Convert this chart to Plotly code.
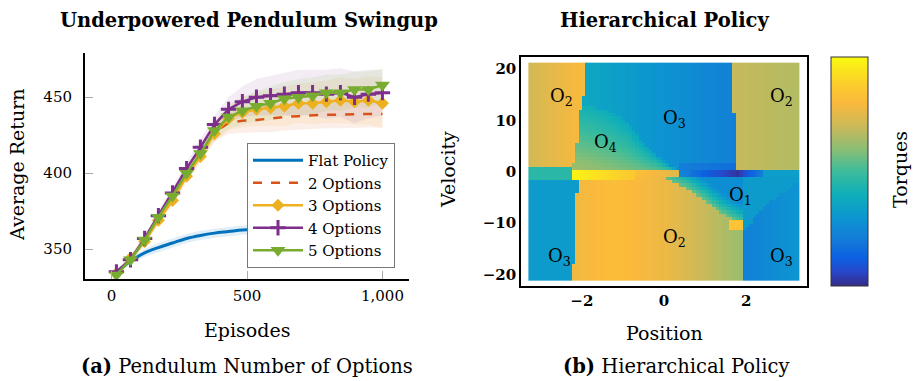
import numpy as np
import plotly.graph_objects as go

W, H = 917, 381
FONT = "DejaVu Serif"

# ---------------- learning curves (left panel) ----------------
episodes = [18, 70, 122, 173, 225, 277, 328, 380, 432, 483,
            535, 587, 638, 690, 742, 793, 845, 897, 948, 1000]

flat_mean = [335, 342, 347.5, 351, 354, 357, 359, 360.5, 361.5, 362.5,
             363, 363.5, 364, 364.5, 365, 365, 365.5, 365.5, 366, 366]
flat_std = [1.5, 2, 2.5, 3, 3, 3, 3, 3, 3, 3, 3, 3, 3, 3, 3, 3, 3, 3, 3, 3]

opt2_mean = [334, 344, 356, 370, 384, 399, 413, 427, 433, 434.5,
             435, 436, 437, 437.5, 438, 438.5, 438.5, 439, 439, 439]
opt2_std = [1.5, 2, 3, 3, 4, 4, 5, 6, 7, 8, 8, 9, 9, 9, 9, 9, 9, 9, 9, 9]

opt3_mean = [334, 344, 355, 369, 382, 398, 411, 426, 436, 440,
             442, 443, 444, 446, 446, 447, 448, 447, 448, 446]
opt3_std = [1.5, 2, 3, 3, 4, 4, 5, 6, 8, 10, 11, 12, 13, 13, 14, 14, 15, 15, 16, 17]

opt4_mean = [335, 343, 357, 372, 387, 403, 417, 432, 442, 447,
             450, 451, 452, 453, 453, 452, 453, 450, 452, 453]
opt4_std = [1.5, 2, 3, 3, 4, 4, 5, 6, 8, 10, 12, 13, 14, 15, 15, 16, 16, 17, 16, 15]

opt5_mean = [333, 343, 356, 371, 385, 400, 413, 428, 437, 441,
             444, 446, 449, 450, 451, 453, 453, 455, 455, 458]
opt5_std = [1.5, 2, 3, 3, 4, 4, 5, 6, 8, 9, 10, 11, 11, 12, 12, 12, 12, 12, 12, 11]

series_names = ["Flat Policy", "2 Options", "3 Options", "4 Options", "5 Options"]
series_colors = ["#0072BD", "#D95319", "#EDB120", "#7E2F8E", "#77AC30"]
band_rgba = ["rgba(0,114,189,0.12)", "rgba(217,83,25,0.09)", "rgba(237,177,32,0.10)",
             "rgba(126,47,142,0.09)", "rgba(119,172,48,0.10)"]

# ---------------- policy map (right panel) ----------------
# region boundaries (position in rad, velocity in rad/s)
tl_o2_vel = [1.0, 3.0, 7.0, 12.0, 15.0, 21.5]
tl_o2_pos = [-2.22, -2.15, -2.10, -2.05, -1.95, -1.88]
tr_o2_vel = [0.6, 5.0, 10.0, 15.0, 21.5]
tr_o2_pos = [1.75, 1.75, 1.72, 1.68, 1.65]
o4_top_pos = [-2.3, -1.9, -1.56, -1.23, -0.91, -0.58, -0.26, 0.07, 0.40]
o4_top_vel = [12.6, 12.6, 12.3, 11.3, 9.7, 6.5, 3.9, 1.6, 0.0]
o2_top_pos = [-2.3, 0.0, 0.55, 1.04, 1.36, 1.69, 1.92]
o2_top_vel = [-1.0, -1.2, -3.2, -5.8, -7.8, -9.4, -10.5]
o2_left_vel = [-21.5, -10.0, -1.0]
o2_left_pos = [-2.22, -2.15, -2.10]
o2_right_pos = 1.92
br_o3_pos = [1.92, 2.5, 3.4]
br_o3_vel = [-11.5, -6.5, -1.2]

# torque levels (0 = full negative, 1 = full positive) along each region
top_o3_pos, top_o3_lvl = [-2.0, 1.75], [0.37, 0.22]
tl_o2_lvl_pos, tl_o2_lvl = [-3.3, -2.0], [0.71, 0.80]
tr_o2_lvl_pos, tr_o2_lvl = [1.7, 3.3], [0.69, 0.66]
bot_o2_lvl_pos = [-2.2, -1.2, 0.0, 1.0, 1.92]
bot_o2_lvl = [0.78, 0.82, 0.77, 0.69, 0.62]
bl_o3_lvl = 0.32
br_o3_lvl_pos, br_o3_lvl = [1.92, 3.3], [0.22, 0.30]
o1_lvl_edge, o1_lvl_far = 0.56, 0.27
o1_right_lvl = 0.32
strip_left_lvl = 0.46
yellow_pos, yellow_lvl = [-2.1, -0.7], [0.97, 0.86]
orange_pos, orange_lvl = [-0.7, 0.35], [0.83, 0.74]
navy_pos, navy_lvl = [0.4, 1.0, 1.8, 2.4], [0.24, 0.12, 0.02, 0.22]
strip_right_lvl = 0.33
spot_lvl = 0.84

NP, NV = 81, 65
pos_edges = np.linspace(-3.30, 3.30, NP + 1)
vel_edges = np.linspace(-21.2, 21.2, NV + 1)
pc = 0.5 * (pos_edges[1:] + pos_edges[:-1])
vc = 0.5 * (vel_edges[1:] + vel_edges[:-1])
P, V = np.meshgrid(pc, vc)

lvl = np.zeros_like(P)
# upper half: O3 by default
lvl[:] = np.interp(P, top_o3_pos, top_o3_lvl)
lvl[(V < 1.5) & (P > 0.4) & (P < 1.75) & (V > 0)] -= 0.06
# O4 wedge
o4_top = np.interp(P, o4_top_pos, o4_top_vel)
m = (V >= 0) & (V < o4_top) & (P > -2.3)
lvl[m] = (0.64 - 0.22 * np.clip(V / np.maximum(o4_top, 0.5), 0, 1)
          - 0.10 * np.clip((P + 2.2) / 2.6, 0, 1))[m]
# O2 corners of the upper half
m = (V > 1.0) & (P < np.interp(V, tl_o2_vel, tl_o2_pos))
lvl[m] = np.interp(P, tl_o2_lvl_pos, tl_o2_lvl)[m]
m = (V > 0.6) & (P > np.interp(V, tr_o2_vel, tr_o2_pos))
lvl[m] = np.interp(P, tr_o2_lvl_pos, tr_o2_lvl)[m]
# lower half
o2_top = np.interp(P, o2_top_pos, o2_top_vel)
o2_left = np.interp(V, o2_left_vel, o2_left_pos)
br_top = np.interp(P, br_o3_pos, br_o3_vel)
low = V < 0
m = low & (V > o2_top)
lvl[m] = (o1_lvl_edge - (o1_lvl_edge - o1_lvl_far)
          * np.clip((V - o2_top) / 4.0, 0, 1))[m]
m = low & (P < o2_left)
lvl[m] = bl_o3_lvl
m = low & (P >= o2_left) & (P <= o2_right_pos) & (V <= o2_top)
lvl[m] = np.interp(P, bot_o2_lvl_pos, bot_o2_lvl)[m]
m = low & (P > o2_right_pos) & (V > br_top)
lvl[m] = o1_right_lvl
m = low & (P > o2_right_pos) & (V <= br_top)
lvl[m] = np.interp(P, br_o3_lvl_pos, br_o3_lvl)[m]
# strip along zero velocity
m = (P < -2.2) & (V > -1.6) & (V < 1.0)
lvl[m] = strip_left_lvl
m = (P >= -2.2) & (P < -0.7) & (V > -1.4) & (V < 0.2)
lvl[m] = np.interp(P, yellow_pos, yellow_lvl)[m]
m = (P >= -0.7) & (P < 0.35) & (V > -1.0) & (V < 0.2)
lvl[m] = np.interp(P, orange_pos, orange_lvl)[m]
m = (P >= 0.4) & (P < 2.4) & (V > -0.8) & (V < 0.3)
lvl[m] = np.interp(P, navy_pos, navy_lvl)[m]
m = (P >= 2.4) & (V > -1.0) & (V < 0.6)
lvl[m] = strip_right_lvl
m = (P > 1.6) & (P < 1.92) & (V > -11.5) & (V < -9.6)
lvl[m] = spot_lvl

torque = 4.0 * lvl - 2.0

parula = [
    [0.00, "rgb(53,42,135)"], [0.06, "rgb(40,70,200)"], [0.12, "rgb(12,96,225)"],
    [0.20, "rgb(20,122,216)"], [0.30, "rgb(12,150,208)"], [0.40, "rgb(15,175,185)"],
    [0.50, "rgb(60,188,155)"], [0.60, "rgb(140,190,115)"], [0.70, "rgb(205,185,88)"],
    [0.80, "rgb(250,185,60)"], [0.88, "rgb(252,205,45)"], [1.00, "rgb(249,251,14)"],
]

fig = go.Figure()

# shaded spread bands
means = [flat_mean, opt2_mean, opt3_mean, opt4_mean, opt5_mean]
stds = [flat_std, opt2_std, opt3_std, opt4_std, opt5_std]
for mu, sd, rgba in zip(means, stds, band_rgba):
    mu, sd = np.array(mu), np.array(sd)
    fig.add_trace(go.Scatter(x=episodes, y=mu + sd, mode="lines", line=dict(width=0),
                             showlegend=False, hoverinfo="skip", xaxis="x", yaxis="y"))
    fig.add_trace(go.Scatter(x=episodes, y=mu - sd, mode="lines", line=dict(width=0),
                             fill="tonexty", fillcolor=rgba, showlegend=False,
                             hoverinfo="skip", xaxis="x", yaxis="y"))

fig.add_trace(go.Scatter(x=episodes, y=flat_mean, mode="lines", name=series_names[0],
                         line=dict(color=series_colors[0], width=3, shape="spline")))
fig.add_trace(go.Scatter(x=episodes, y=opt2_mean, mode="lines", name=series_names[1],
                         line=dict(color=series_colors[1], width=2.5, dash="dash")))
fig.add_trace(go.Scatter(x=episodes, y=opt3_mean, mode="lines+markers", name=series_names[2],
                         line=dict(color=series_colors[2], width=2.5),
                         marker=dict(symbol="diamond", size=10, color=series_colors[2])))
fig.add_trace(go.Scatter(x=episodes, y=opt4_mean, mode="lines+markers", name=series_names[3],
                         line=dict(color=series_colors[3], width=2.5),
                         marker=dict(symbol="cross-thin", size=11, color=series_colors[3],
                                     line=dict(color=series_colors[3], width=3))))
fig.add_trace(go.Scatter(x=episodes, y=opt5_mean, mode="lines+markers", name=series_names[4],
                         line=dict(color=series_colors[4], width=2.5),
                         marker=dict(symbol="triangle-down", size=13, color=series_colors[4])))

fig.add_trace(go.Heatmap(
    x=pos_edges, y=vel_edges, z=torque, zmin=-2, zmax=2, colorscale=parula,
    xaxis="x2", yaxis="y2", showscale=True, hoverinfo="skip",
    colorbar=dict(x=831 / W, xanchor="left", xpad=0, ypad=0, thickness=37,
                  thicknessmode="pixels", len=229 / H, lenmode="fraction",
                  y=1 - 171.7 / H, yanchor="middle",
                  outlinecolor="#333", outlinewidth=1, showticklabels=False, ticks=""),
))


def px(x):
    return x / W


def py(y):
    return 1 - y / H


tick_font = dict(family=FONT, size=15, color="black")
fig.update_layout(
    width=W, height=H, margin=dict(l=0, r=0, t=0, b=0),
    paper_bgcolor="white", plot_bgcolor="white",
    font=dict(family=FONT, color="black"),
    xaxis=dict(domain=[px(85), px(409)], range=[-98, 1098], tickvals=[0, 500, 1000],
               ticktext=["0", "500", "1,000"], ticks="inside", ticklen=8, tickcolor="#aaa",
               showline=True, linecolor="black", linewidth=2, showgrid=False, zeroline=False,
               tickfont=tick_font, ticklabelstandoff=2),
    yaxis=dict(domain=[py(279), py(53)], range=[330.3, 479.1], tickvals=[350, 400, 450],
               ticks="inside", ticklen=8, tickcolor="#aaa", showline=True, linecolor="black",
               linewidth=2, showgrid=False, zeroline=False, tickfont=tick_font,
               ticklabelstandoff=8),
    xaxis2=dict(domain=[px(521), px(807)], range=[-3.48, 3.48], tickvals=[-2, 0, 2],
                ticktext=["<b>−2</b>", "<b>0</b>", "<b>2</b>"], ticks="",
                showline=True, mirror=True, linecolor="black", linewidth=1.5,
                showgrid=False, zeroline=False, tickfont=tick_font, anchor="y2"),
    yaxis2=dict(domain=[py(286), py(57)], range=[-22.2, 22.3], tickvals=[-20, -10, 0, 10, 20],
                ticktext=["<b>−20</b>", "<b>−10</b>", "<b>0</b>", "<b>10</b>", "<b>20</b>"],
                ticks="", showline=True, mirror=True, linecolor="black", linewidth=1.5,
                showgrid=False, zeroline=False, tickfont=tick_font, anchor="x2"),
    legend=dict(x=px(247), y=py(143), xanchor="left", yanchor="top", traceorder="normal",
                bgcolor="white", bordercolor="#777", borderwidth=1,
                font=dict(family=FONT, size=15), itemwidth=50, tracegroupgap=0),
)

annotations = [
    dict(text="<b>Underpowered Pendulum Swingup</b>", x=px(249), y=py(20), size=19.5),
    dict(text="<b>Hierarchical Policy</b>", x=px(664), y=py(20), size=19.5),
    dict(text="Episodes", x=px(247), y=py(330), size=19),
    dict(text="Position", x=px(664), y=py(333), size=19),
    dict(text="<b>(a)</b> Pendulum Number of Options", x=px(247), y=py(366), size=19.5),
    dict(text="<b>(b)</b> Hierarchical Policy", x=px(676), y=py(366), size=19.5),
    dict(text="Average Return", x=px(17), y=py(165), size=19, angle=-90),
    dict(text="Velocity", x=px(448), y=py(170), size=19, angle=-90),
    dict(text="Torques", x=px(900), y=py(170), size=19, angle=-90),
]
for a in annotations:
    fig.add_annotation(text=a["text"], x=a["x"], y=a["y"], xref="paper", yref="paper",
                       showarrow=False, textangle=a.get("angle", 0),
                       font=dict(family=FONT, size=a["size"], color="black"),
                       xanchor="center", yanchor="middle")

# option labels placed inside the policy map
option_labels = ["O<sub>2</sub>", "O<sub>2</sub>", "O<sub>3</sub>", "O<sub>4</sub>",
                 "O<sub>1</sub>", "O<sub>2</sub>", "O<sub>3</sub>", "O<sub>3</sub>"]
option_pos = [-2.5, 2.85, 0.25, -1.42, 1.85, 0.25, -2.55, 2.85]
option_vel = [14.5, 14.5, 10.2, 5.5, -4.8, -12.8, -16.5, -16.5]
for t, xp, yv in zip(option_labels, option_pos, option_vel):
    fig.add_annotation(text=t, x=xp, y=yv, xref="x2", yref="y2", showarrow=False,
                       font=dict(family=FONT, size=18, color="black"))

fig.write_html("out.html")
